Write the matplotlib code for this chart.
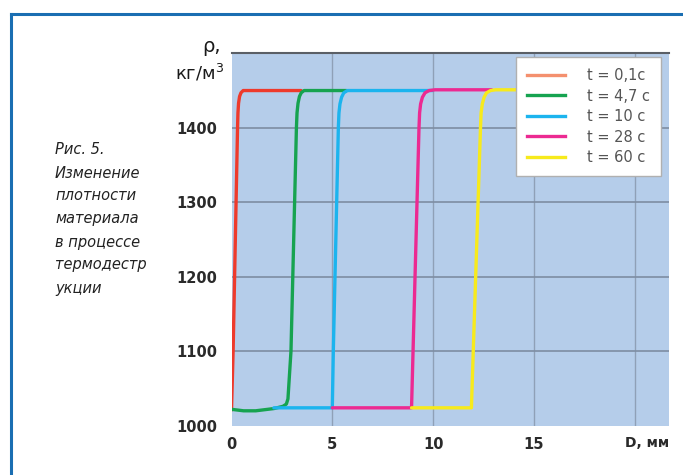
import matplotlib
matplotlib.use("Agg")
import matplotlib.pyplot as plt
from matplotlib.lines import Line2D

# ---- data ----
labels = ["t = 0,1c", "t = 4,7 c", "t = 10 c", "t = 28 c", "t = 60 c"]
colors = ["#ee3a2c", "#16a350", "#1cb4ee", "#ec2a92", "#f7ea1c"]

red_x = [0.0, 0.08, 0.30, 0.32, 0.35, 0.40, 0.47, 0.58, 3.45]
red_y = [1021, 1100, 1400, 1420, 1433, 1442, 1447, 1450, 1450]

green_x = [0.0, 0.6, 1.2, 2.1, 2.55, 2.72, 2.8, 2.95, 3.22, 3.25, 3.30, 3.37, 3.46, 3.60, 5.7]
green_y = [1022, 1020, 1020, 1023, 1026, 1029, 1036, 1100, 1400, 1420, 1433, 1442, 1447, 1450, 1450]

blue_x = [2.1, 5.0, 5.05, 5.30, 5.33, 5.38, 5.46, 5.57, 5.75, 9.97]
blue_y = [1024, 1024, 1100, 1400, 1420, 1432, 1441, 1447, 1450, 1450]

pink_x = [5.0, 8.93, 9.30, 9.33, 9.38, 9.47, 9.60, 9.80, 10.1, 12.9]
pink_y = [1024, 1024, 1400, 1420, 1432, 1441, 1447, 1450, 1451, 1451]

yellow_x = [8.93, 11.9, 12.35, 12.38, 12.44, 12.53, 12.65, 12.85, 13.1, 14.5]
yellow_y = [1024, 1024, 1400, 1420, 1432, 1441, 1447, 1450, 1451, 1451]

xticks = [0, 5, 10, 15]
yticks = [1000, 1100, 1200, 1300, 1400]
caption = ["Рис. 5.", "Изменение", "плотности", "материала",
           "в процессе", "термодестр", "укции"]

series = [(red_x, red_y), (green_x, green_y), (blue_x, blue_y),
          (pink_x, pink_y), (yellow_x, yellow_y)]

W, H = 683, 475
fig = plt.figure(figsize=(W / 100, H / 100), dpi=100)
fig.patch.set_facecolor("white")

ax_l, ax_r, ax_t, ax_b = 231.5, 669, 53.3, 425.7
ax = fig.add_axes([ax_l / W, 1 - ax_b / H, (ax_r - ax_l) / W, (ax_b - ax_t) / H])
ax.set_facecolor("#b5cdea")
ax.set_xlim(0, 21.7)
ax.set_ylim(1000, 1500)

for x in [5, 10, 15, 20]:
    ax.axvline(x, color="#8fa0b7", lw=1.0, zorder=1)
for y in [1100, 1200, 1300, 1400]:
    ax.axhline(y, color="#7d8da3", lw=1.2, zorder=1)

for (xs, ys), c, lab in zip(series, colors, labels):
    ax.plot(xs, ys, color=c, lw=2.4, solid_joinstyle="round",
            solid_capstyle="round", label=lab, zorder=3)

for s in ["left", "right", "bottom"]:
    ax.spines[s].set_visible(False)
ax.spines["top"].set_color("#5a5f66")
ax.spines["top"].set_linewidth(1.5)

ax.set_xticks(xticks)
ax.set_yticks(yticks)
ax.tick_params(length=0, labelsize=10.5, labelcolor="#2a2a2a")
ax.tick_params(axis="y", pad=10)
ax.tick_params(axis="x", pad=8)
for t in ax.get_xticklabels() + ax.get_yticklabels():
    t.set_fontweight("bold")

leg_handles = [Line2D([0], [0], color=c, lw=2.4) for c in colors]
leg_handles[0] = Line2D([0], [0], color="#f4906e", lw=2.4)
leg = ax.legend(leg_handles, labels, loc="upper right",
                bbox_to_anchor=(0.982, 0.99), fontsize=10.5,
                frameon=True, fancybox=False, framealpha=1,
                edgecolor="#b0b0b0", facecolor="white",
                handlelength=2.6, handletextpad=1.5, labelspacing=0.38,
                borderpad=0.75, borderaxespad=0)
leg.set_zorder(5)
for t in leg.get_texts():
    t.set_color("#555555")

# axis titles
fig.text(221 / W, 1 - 47 / H, "ρ,", ha="right", va="center",
         fontsize=14, color="#1a1a1a")
fig.text(224 / W, 1 - 73 / H, "кг/м$^3$", ha="right", va="center",
         fontsize=13, color="#1a1a1a")
fig.text(669 / W, 1 - 443 / H, "D, мм", ha="right", va="center",
         fontsize=10, fontweight="bold", color="#2a2a2a")

# caption
y0 = 150
for i, line in enumerate(caption):
    fig.text(55 / W, 1 - (y0 + i * 23) / H, line, ha="left", va="center",
             fontsize=10.5, style="italic", color="#222222")

# frame
fig.add_artist(Line2D([11 / W, 11 / W], [-0.1, 1 - 14 / H],
                      transform=fig.transFigure, color="#1a6eb2", lw=2.2))
fig.add_artist(Line2D([11 / W, 1.1], [1 - 14 / H, 1 - 14 / H],
                      transform=fig.transFigure, color="#1a6eb2", lw=2.2))

fig.savefig("out.png", dpi=100)
